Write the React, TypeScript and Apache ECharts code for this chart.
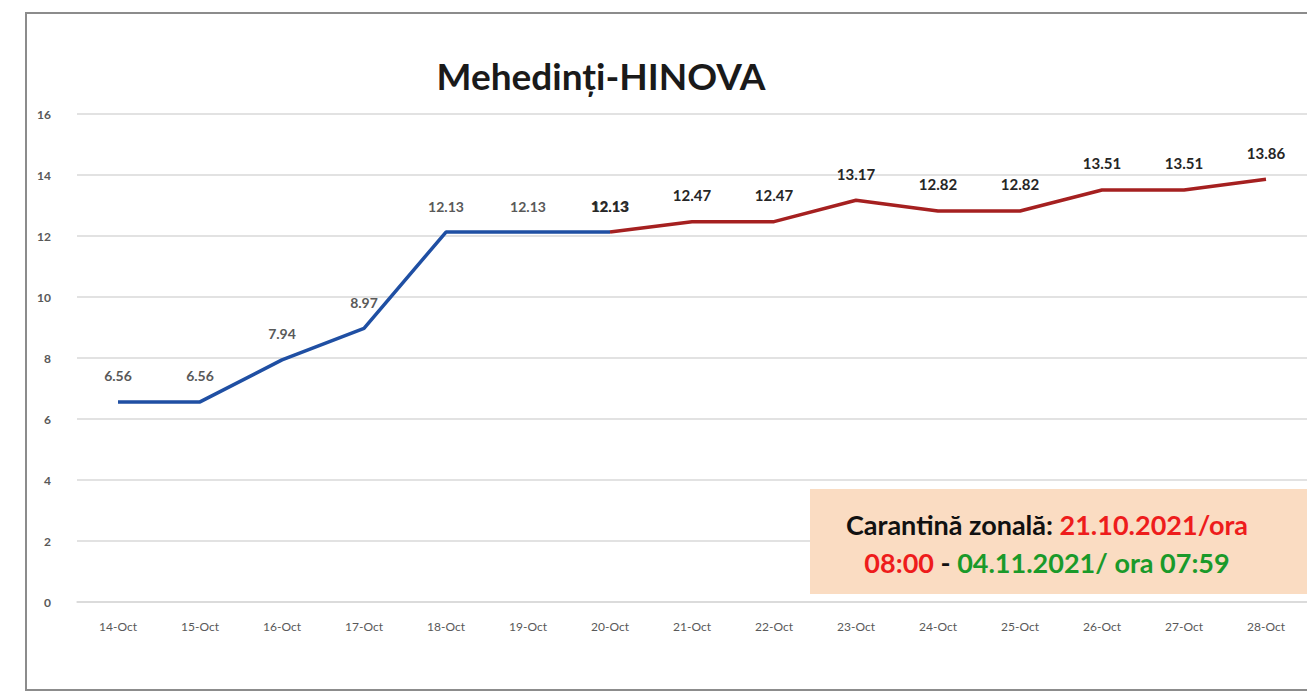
import React, { useEffect, useRef } from "react";
import * as echarts from "echarts";

const categories = ["14-Oct","15-Oct","16-Oct","17-Oct","18-Oct","19-Oct","20-Oct","21-Oct","22-Oct","23-Oct","24-Oct","25-Oct","26-Oct","27-Oct","28-Oct"];
const blueValues: (number | string)[] = [6.56, 6.56, 7.94, 8.97, 12.13, 12.13, 12.13, "-", "-", "-", "-", "-", "-", "-", "-"];
const redValues: (number | string)[] = ["-", "-", "-", "-", "-", "-", 12.13, 12.47, 12.47, 13.17, 12.82, 12.82, 13.51, 13.51, 13.86];
const yTicks = { min: 0, max: 16, interval: 2 };
const titleText = "Mehedinți-HINOVA";

export default function App() {
  const ref = useRef<HTMLDivElement>(null);
  useEffect(() => {
    if (!ref.current) return;
    const chart = echarts.init(ref.current, null, { renderer: "svg" });
    const font = "Lato, 'Open Sans', sans-serif";
    chart.setOption({
      animation: false,
      backgroundColor: "#ffffff",
      title: {
        text: titleText,
        left: 596,
        top: 52,
        textAlign: "center",
        textStyle: { fontFamily: font, fontSize: 37, fontWeight: "bold", color: "#1a1a1a" },
      },
      grid: { left: 77, right: -4, top: 114, bottom: 93, containLabel: false },
      xAxis: {
        type: "category",
        data: categories,
        boundaryGap: true,
        axisLine: { lineStyle: { color: "#d9d9d9", width: 1.5 } },
        axisTick: { show: false },
        axisLabel: { fontFamily: font, fontSize: 12, color: "#595959", margin: 18 },
      },
      yAxis: {
        type: "value",
        min: yTicks.min,
        max: yTicks.max,
        interval: yTicks.interval,
        axisLine: { show: false },
        axisTick: { show: false },
        axisLabel: { fontFamily: font, fontSize: 12, color: "#595959", margin: 26, fontWeight: "bold" },
        splitLine: { lineStyle: { color: "#d9d9d9", width: 1.5 } },
      },
      series: [
        {
          type: "line",
          data: blueValues,
          symbol: "circle",
          symbolSize: 0,
          showSymbol: true,
          itemStyle: { color: "#1f4fa3" },
          lineStyle: { color: "#1f4fa3", width: 3.5 },
          label: {
            show: true,
            position: "top",
            distance: 19,
            fontFamily: font,
            fontSize: 14,
            fontWeight: "bold",
            color: "#595959",
          },
        },
        {
          type: "line",
          data: redValues,
          symbol: "circle",
          symbolSize: 0,
          showSymbol: true,
          itemStyle: { color: "#a52020" },
          lineStyle: { color: "#a52020", width: 3.5 },
          label: {
            show: true,
            position: "top",
            distance: 19,
            fontFamily: font,
            fontSize: 15,
            fontWeight: "bold",
            color: "#262626",
          },
        },
      ],
      graphic: [
        {
          type: "rect",
          shape: { x: 26, y: 13, width: 1300, height: 677 },
          style: { fill: "none", stroke: "#8c8c8c", lineWidth: 2 },
          silent: true,
        },
        {
          type: "rect",
          shape: { x: 810, y: 489, width: 510, height: 105 },
          style: { fill: "#fadcc2", stroke: "none" },
          z: 10,
        },
        {
          type: "text",
          x: 1047,
          y: 543,
          z: 11,
          style: {
            text: "{k|Carantină zonală: }{r|21.10.2021/ora}\n{r|08:00}{k| - }{g|04.11.2021/ ora 07:59}",
            align: "center",
            verticalAlign: "middle",
            lineHeight: 38,
            rich: {
              k: { fontFamily: font, fontSize: 27, fontWeight: "bold", fill: "#111111", lineHeight: 38 },
              r: { fontFamily: font, fontSize: 27, fontWeight: "bold", fill: "#ee1c1c", lineHeight: 38 },
              g: { fontFamily: font, fontSize: 27, fontWeight: "bold", fill: "#1a9a2a", lineHeight: 38 },
            },
          },
        },
      ],
    });
    return () => chart.dispose();
  }, []);
  return (
    <div
      ref={ref}
      style={{ position: "fixed", left: 0, top: 0, width: 1307, height: 695 }}
    />
  );
}
